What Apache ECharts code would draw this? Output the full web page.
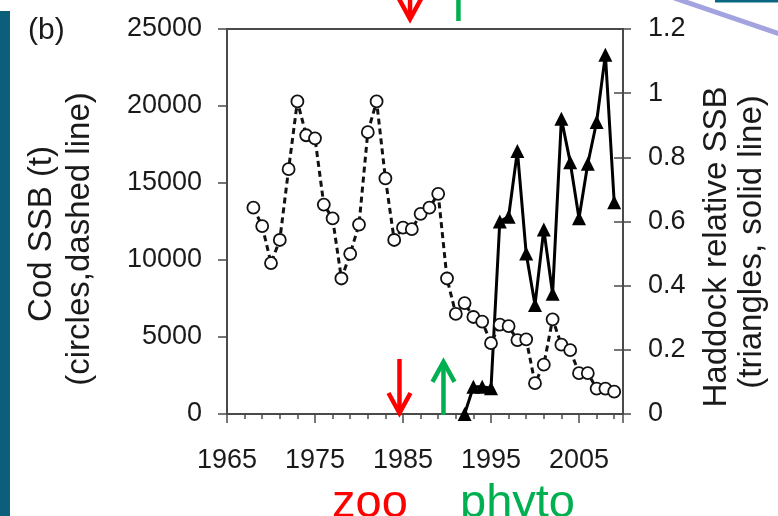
<!DOCTYPE html>
<html>
<head>
<meta charset="utf-8">
<script src="https://cdn.jsdelivr.net/npm/echarts@6/dist/echarts.min.js"></script>
<style>
  html, body { margin: 0; padding: 0; background: #fff; }
  #chart { width: 778px; height: 516px; }
</style>
</head>
<body>
<div id="chart"></div>
<script>
// Cod spawning stock biomass (tonnes), open circles on a dashed line
const codYears = [1968, 1969, 1970, 1971, 1972, 1973, 1974, 1975, 1976, 1977, 1978, 1979,
  1980, 1981, 1982, 1983, 1984, 1985, 1986, 1987, 1988, 1989, 1990, 1991, 1992, 1993,
  1994, 1995, 1996, 1997, 1998, 1999, 2000, 2001, 2002, 2003, 2004, 2005, 2006, 2007,
  2008, 2009];
const codSSB = [13400, 12200, 9800, 11300, 15900, 20300, 18100, 17900, 13600, 12700, 8800,
  10400, 12300, 18300, 20300, 15300, 11300, 12100, 12000, 13000, 13400, 14300, 8800, 6500,
  7200, 6300, 6000, 4600, 5800, 5700, 4800, 4850, 2000, 3200, 6150, 4500, 4150, 2650, 2650,
  1650, 1650, 1450];

// Haddock relative SSB, filled triangles on a solid line
const haddockYears = [1992, 1993, 1994, 1995, 1996, 1997, 1998, 1999, 2000, 2001, 2002,
  2003, 2004, 2005, 2006, 2007, 2008, 2009];
const haddockSSB = [0, 0.085, 0.085, 0.08, 0.60, 0.615, 0.82, 0.50, 0.34, 0.575, 0.375,
  0.92, 0.785, 0.61, 0.78, 0.91, 1.12, 0.66];

// Labelled years on the x axis
const yearTicks = [1965, 1975, 1985, 1995, 2005];

// Regime-shift markers (year of the shift)
const zooShiftYear = 1984.6;
const phytoShiftYear = 1989.6;

const tickFont = '"Liberation Sans", Arial, sans-serif';
const titleFont = '"Liberation Sans", Arial, sans-serif';
const frameColor = '#4a4a4a';
const textColor = '#1a1a1a';

const chart = echarts.init(document.getElementById('chart'), null, { renderer: 'canvas' });

const option = {
  animation: false,
  backgroundColor: '#fff',
  grid: {
    left: 227, right: 155, top: 29, bottom: 102,
    show: true, borderColor: frameColor, borderWidth: 2,
    outerBoundsMode: 'none'
  },
  xAxis: [
    {
      type: 'value', min: 1965, max: 2010, interval: 10, position: 'bottom',
      axisLine: { show: true, lineStyle: { color: frameColor, width: 2 } },
      axisTick: { show: true, length: 9, lineStyle: { color: frameColor, width: 1.5 } },
      axisLabel: {
        margin: 33, fontFamily: tickFont, fontSize: 27, color: textColor,
        formatter: v => (yearTicks.indexOf(v) >= 0 ? String(v) : '')
      },
      splitLine: { show: false }
    },
    {
      type: 'value', min: 1965, max: 2010, interval: 2, position: 'bottom',
      axisLine: { show: false },
      axisTick: { show: true, length: 5, lineStyle: { color: frameColor, width: 1.5 } },
      axisLabel: { show: false },
      splitLine: { show: false }
    }
  ],
  yAxis: [
    {
      type: 'value', min: 0, max: 25000, interval: 5000, position: 'left',
      axisLine: { show: true, lineStyle: { color: frameColor, width: 2 } },
      axisTick: { show: true, length: 9, lineStyle: { color: frameColor, width: 1.5 } },
      axisLabel: { margin: 25, fontFamily: tickFont, fontSize: 27, color: textColor,
        formatter: v => String(v) },
      splitLine: { show: false }
    },
    {
      type: 'value', min: 0, max: 1.2, interval: 0.2, position: 'right',
      axisLine: { show: true, lineStyle: { color: frameColor, width: 2 } },
      axisTick: { show: true, length: 8, lineStyle: { color: frameColor, width: 1.5 } },
      axisLabel: { margin: 25, fontFamily: tickFont, fontSize: 27, color: textColor,
        formatter: v => String(Math.round(v * 10) / 10) },
      splitLine: { show: false }
    },
    {
      // inner half of the right-hand ticks
      type: 'value', min: 0, max: 1.2, interval: 0.2, position: 'right',
      axisLine: { show: false },
      axisTick: { show: true, inside: true, length: 9, lineStyle: { color: frameColor, width: 1.5 } },
      axisLabel: { show: false },
      splitLine: { show: false }
    }
  ],
  series: [
    {
      name: 'Haddock', type: 'line', xAxisIndex: 0, yAxisIndex: 1, z: 2,
      data: haddockYears.map((y, i) => [y, haddockSSB[i]]),
      symbol: 'triangle', symbolSize: 14,
      itemStyle: { color: '#000' },
      lineStyle: { color: '#000', width: 3 }
    },
    {
      name: 'Cod', type: 'line', xAxisIndex: 0, yAxisIndex: 0, z: 3,
      data: codYears.map((y, i) => [y, codSSB[i]]),
      symbol: 'circle', symbolSize: 12,
      itemStyle: { color: '#fff', borderColor: '#111', borderWidth: 1.8 },
      lineStyle: { color: '#111', width: 3, type: [6, 4] }
    }
  ]
};

chart.setOption(option);

const toPx = (x, y) => chart.convertToPixel({ xAxisIndex: 0, yAxisIndex: 0 }, [x, y]);

function arrow(x, yTail, yTip, color) {
  const dir = yTip > yTail ? 1 : -1;
  return [
    { type: 'line', shape: { x1: x, y1: yTail, x2: x, y2: yTip },
      style: { stroke: color, lineWidth: 4.5 }, z: 50 },
    { type: 'polyline',
      shape: { points: [[x - 11, yTip - dir * 20], [x, yTip], [x + 11, yTip - dir * 20]] },
      style: { stroke: color, lineWidth: 4.5, fill: null, lineJoin: 'miter' }, z: 50 }
  ];
}

const red = '#ff0000';
const green = '#00b050';
const zooBottom = toPx(zooShiftYear, 0);
const zooTop = toPx(zooShiftYear, 3570);
const phyBottom = toPx(phytoShiftYear, 0);
const phyTop = toPx(phytoShiftYear, 3380);
const zooUpper = toPx(1985.8, 0);
const phyUpper = toPx(1991.3, 0);

const graphics = [
  // slide furniture around the figure
  { type: 'rect', shape: { x: 0, y: 11, width: 10, height: 505 }, style: { fill: '#0b5f7b' }, z: 1 },
  { type: 'rect', shape: { x: 715, y: 0, width: 63, height: 2.5 }, style: { fill: '#0b6682' }, z: 1 },
  { type: 'line', shape: { x1: 674, y1: -2, x2: 780, y2: 34 },
    style: { stroke: '#a3a3e0', lineWidth: 5 }, z: 2 },

  // panel letter
  { type: 'text', x: 28, y: 31,
    style: { text: '(b)', font: '30px ' + tickFont, fill: textColor, verticalAlign: 'middle' } },

  // left axis title
  { type: 'text', x: 42, y: 234, rotation: Math.PI / 2,
    style: { text: 'Cod SSB (t)', font: '33px ' + titleFont, fill: textColor,
      align: 'center', verticalAlign: 'middle' } },
  { type: 'text', x: 80, y: 239, rotation: Math.PI / 2,
    style: { text: '(circles,dashed line)', font: '33px ' + titleFont, fill: textColor,
      align: 'center', verticalAlign: 'middle' } },

  // right axis title
  { type: 'text', x: 717, y: 247, rotation: Math.PI / 2,
    style: { text: 'Haddock relative SSB', font: '33px ' + titleFont, fill: textColor,
      align: 'center', verticalAlign: 'middle' } },
  { type: 'text', x: 752, y: 242, rotation: Math.PI / 2,
    style: { text: '(triangles, solid line)', font: '33px ' + titleFont, fill: textColor,
      align: 'center', verticalAlign: 'middle' } },

  // regime labels
  { type: 'text', x: 332, y: 504,
    style: { text: 'zoo', font: '47px ' + titleFont, fill: red, verticalAlign: 'middle' } },
  { type: 'text', x: 460, y: 504,
    style: { text: 'phyto', font: '47px ' + titleFont, fill: green, verticalAlign: 'middle' } }
];

graphics.push(...arrow(zooBottom[0], zooTop[1], zooBottom[1] - 1, red));
graphics.push(...arrow(phyBottom[0], phyBottom[1] + 1, phyTop[1], green));
// arrows continuing from the panel above
graphics.push(...arrow(zooUpper[0], -2, 19, red));
graphics.push({ type: 'line', shape: { x1: phyUpper[0], y1: -2, x2: phyUpper[0], y2: 21 },
  style: { stroke: green, lineWidth: 4.5 }, z: 50 });

chart.setOption({ graphic: graphics });
</script>
</body>
</html>
